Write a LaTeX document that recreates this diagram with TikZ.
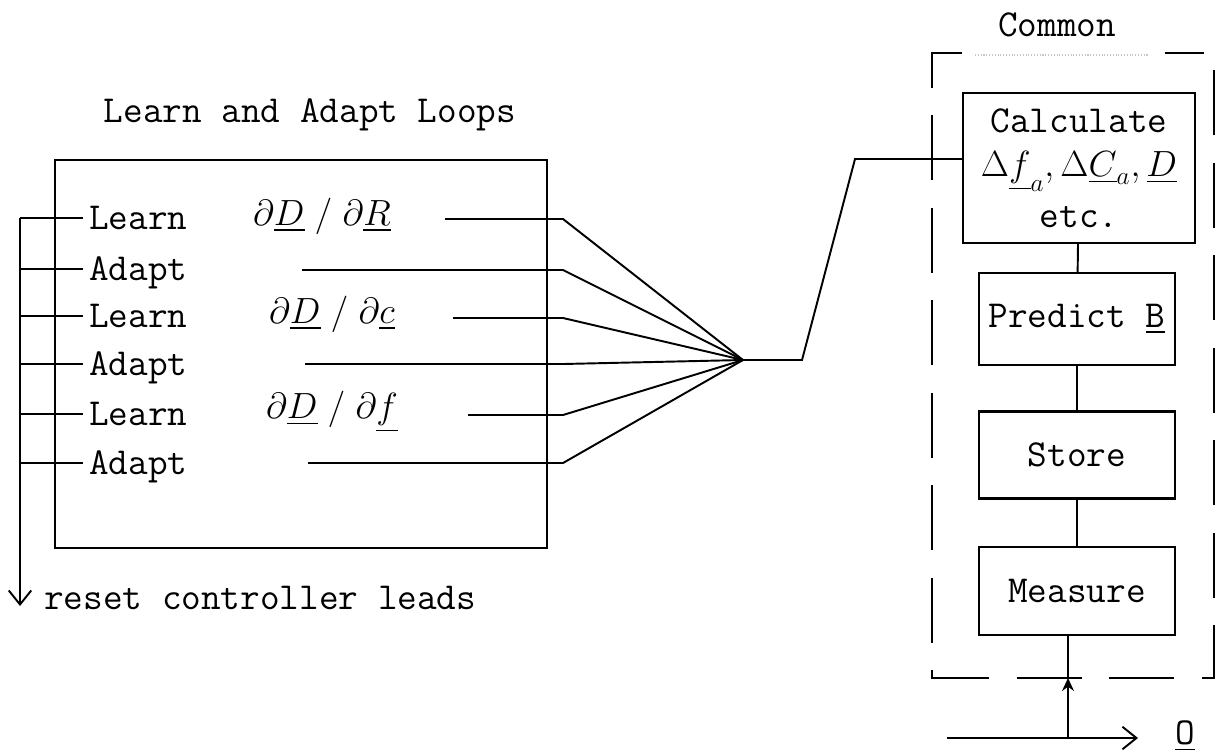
\documentclass[tikz,border=0pt]{standalone}
\usepackage{amsmath}
\usepackage{tikz}
\usetikzlibrary{arrows.meta}
\tikzset{
  wire/.style={line width=1.1pt},
  unit/.style={draw, line width=1.3pt, minimum width=3.92cm, inner sep=2pt, align=center},
  frame/.style={line width=1.3pt, dash pattern=on 1.3cm off 0.55cm},
  barb/.style={-{Straight Barb[length=0.28cm,width=0.45cm,line width=1.1pt]}},
}

\begin{document}
\begin{tikzpicture}[x=0.02cm, y=-0.02cm, font=\ttfamily\fontsize{21.7}{26}\selectfont]
  \useasboundingbox (0,0) rectangle (1219,754);
  % left block
  \node (title) at (310,115) {Learn and Adapt Loops};
  \draw[line width=1.3pt] (55,160) rectangle (547,548);
  \foreach \y/\lab [count=\i] in {218/Learn,269/Adapt,316/Learn,364/Adapt,414/Learn,463/Adapt}{
    \node[anchor=base west] (row\i) at (83,\y+11) {\lab};
    \coordinate (tap\i) at (20,\y);
    \draw[wire] (tap\i) -- (row\i.west |- tap\i);
  }
  \node (dR) at (322,216) {$\partial\underline{D}\;/\;\partial\underline{R}$};
  \node (dc) at (332,314) {$\partial\underline{D}\;/\;\partial\underline{c}$};
  \node (df) at (332,412) {$\partial\underline{D}\;/\;\partial\underline{f}$};
  % reset bus
  \coordinate (resetend) at (20,606);
  \draw[wire, barb] (tap1) -- (resetend);
  \node[anchor=west] (reset) at (38,598) {reset controller leads};
  % fan in
  \coordinate (hub) at (743,360);
  \foreach \i/\x/\y in {1/445/219, 2/302/270, 3/453/318, 4/305/364, 5/468/415, 6/308/463}{
    \coordinate (s\i) at (\x,\y);
    \coordinate (k\i) at (563,\y);
    \draw[wire] (s\i) -- (k\i) -- (hub);
  }
  % common block
  \node (common) at (1057,25) {Common};
  \draw[frame] (962,53) -- (932,53) -- (932,678) -- (1214,678) -- (1214,53) -- (1165,53);
  \draw[gray!45, line width=0.6pt, densely dotted] (975,55) -- (1148,55);
  \node[unit, minimum width=4.64cm, minimum height=3.0cm] (calc) at (1079,168)
    {Calculate\\[-1pt] $\Delta\underline{f}_a,\Delta\underline{C}_a,\underline{D}$\\[3pt] etc.};
  \node[unit, minimum height=1.84cm] (pred) at (1077,319) {Predict \underline{B}};
  \node[unit, minimum height=1.74cm] (store) at (1077,455) {Store};
  \node[unit, minimum height=1.76cm] (meas) at (1077,591) {Measure};
  \draw[wire] (calc) -- (pred);
  \draw[wire] (pred) -- (store);
  \draw[wire] (store) -- (meas);
  \coordinate (j1) at (802,360);
  \coordinate (j2) at (855,159);
  \draw[wire] (hub) -- (j1) -- (j2) -- (j2 -| calc.west);
  % input
  \coordinate (inp) at (1068,738);
  \coordinate (gate) at (1068,678);
  \draw[wire, -{Stealth[length=0.26cm,width=0.24cm]}] (inp) -- (gate);
  \draw[wire] (gate) -- (gate |- meas.south);
  \coordinate (feedin) at (947,738);
  \coordinate (feedout) at (1138,738);
  \draw[wire, barb] (feedin) -- (feedout);
  \node (outO) at (1185,736) {\underline{O}};
\end{tikzpicture}
\end{document}
